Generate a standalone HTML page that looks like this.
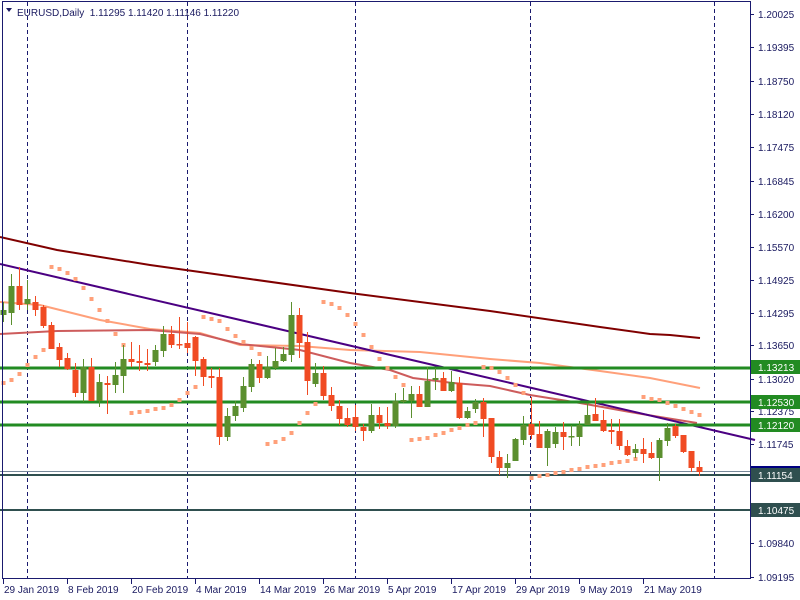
<!DOCTYPE html>
<html><head><meta charset="utf-8"><style>
html,body{margin:0;padding:0;background:#fff}
svg{display:block}
text{font-family:"Liberation Sans","DejaVu Sans",sans-serif;font-size:10px;fill:#1a1a60}
</style></head><body>
<svg width="800" height="600" viewBox="0 0 800 600" xmlns="http://www.w3.org/2000/svg">
<rect width="800" height="600" fill="#fff"/>
<!-- separators -->
<g stroke="#1a1a6e" stroke-dasharray="4,3" stroke-width="1">
<line x1="27.5" y1="2" x2="27.5" y2="578"/><line x1="187.5" y1="2" x2="187.5" y2="578"/><line x1="355.5" y1="2" x2="355.5" y2="578"/><line x1="530.5" y1="2" x2="530.5" y2="578"/><line x1="714.5" y1="2" x2="714.5" y2="578"/>
</g>
<!-- MAs -->
<polyline fill="none" stroke="#800000" stroke-width="2" points="0,237 57,250 150,265 250,279 350,293 490,311 600,327 650,334 670,335 700,338"/>
<polyline fill="none" stroke="#ffa07a" stroke-width="2" points="0,302 40,305 60,310 100,320 150,329 200,333 240,345 300,346 350,350 420,352 490,359 540,363 600,371 650,378 700,388"/>
<polyline fill="none" stroke="#cd5c5c" stroke-width="2" points="0,334 57,331 150,330 200,334 240,344 300,350 350,363 390,370 413,378 453,383 490,386 530,395 580,403 630,412 660,417 697,423"/>
<line x1="0" y1="264" x2="755" y2="440" stroke="#4b0082" stroke-width="2"/>
<!-- levels -->
<g stroke="#228b22" stroke-width="3"><line x1="0" y1="368" x2="750" y2="368"/><line x1="0" y1="402" x2="750" y2="402"/><line x1="0" y1="425" x2="750" y2="425"/></g>
<line x1="0" y1="471.5" x2="750" y2="471.5" stroke="#778899" stroke-width="1"/>
<g stroke="#2f4f4f" stroke-width="2"><line x1="0" y1="475" x2="750" y2="475"/><line x1="0" y1="510" x2="750" y2="510"/></g>
<!-- SAR -->
<g fill="#ffa07a" id="sar"></g>
<!-- candles -->
<g id="c"></g>
<!-- frame -->
<g stroke="#1a1a6e" stroke-width="1" fill="none">
<line x1="2.5" y1="1" x2="2.5" y2="578"/><line x1="2" y1="578.5" x2="750" y2="578.5"/><line x1="750.5" y1="1" x2="750.5" y2="579"/><line x1="2" y1="1.5" x2="750" y2="1.5"/>
</g>
<g id="ax"></g>
<!-- labels -->
<rect x="751" y="466" width="49" height="5" fill="#000080"/>
<rect x="751" y="360" width="49" height="14" fill="#228b22"/>
<rect x="751" y="395" width="49" height="14" fill="#228b22"/>
<rect x="751" y="418" width="49" height="14" fill="#228b22"/>
<rect x="751" y="468" width="49" height="14" fill="#2f4f4f"/>
<rect x="751" y="503" width="49" height="14" fill="#2f4f4f"/>
<g style="fill:#fff"><text x="758" y="371" style="fill:#fff">1.13213</text><text x="758" y="406" style="fill:#fff">1.12530</text><text x="758" y="429" style="fill:#fff">1.12120</text><text x="758" y="479" style="fill:#fff">1.11154</text><text x="758" y="514" style="fill:#fff">1.10475</text></g>
<path d="M6,8 L12,8 L9,12 Z" fill="#1a1a60"/>
<text x="17" y="16">EURUSD,Daily&#160; 1.11295 1.11420 1.11146 1.11220</text>
</svg>
<script>
var NS="http://www.w3.org/2000/svg";
function el(p,t,a){var e=document.createElementNS(NS,t);for(var k in a)e.setAttribute(k,a[k]);p.appendChild(e);return e;}
var d="3 310 315 302 322 G|11 286 313 274 325 G|19 286 305 267 310 R|27 299 304 280 310 G|35 302 310 296 316 R|43 307 326 305 328 R|51 325 349 322 349 R|59 347 360 343 367 R|67 358 369 353 370 R|75 370 393 363 397 R|83 367 393 359 402 G|91 367 401 358 401 R|99 382 401 374 407 G|107 383 385 376 414 R|115 375 385 362 393 G|123 359 376 345 393 G|131 359 362 342 367 R|139 361 363 345 371 R|147 363 365 349 371 R|155 350 362 345 366 G|163 334 351 326 357 G|171 334 345 326 348 R|179 344 345 317 349 R|187 343 348 322 353 R|195 337 361 336 376 R|203 359 377 357 386 R|211 376 378 368 388 R|219 377 437 368 445 R|227 416 437 408 441 G|235 406 416 401 421 G|243 386 408 377 412 G|251 364 387 359 392 G|259 364 378 360 383 R|267 367 378 356 379 G|275 361 368 348 370 G|283 354 361 347 362 G|291 315 355 302 362 G|299 315 343 308 358 R|307 342 381 332 395 R|315 373 384 363 387 G|323 373 396 366 400 R|331 395 406 387 411 R|339 406 419 400 425 R|347 418 425 408 427 R|355 417 427 405 431 R|363 427 431 424 441 R|371 415 431 404 433 G|379 415 423 407 429 R|387 423 426 407 429 R|395 401 426 393 428 G|403 400 402 388 403 G|411 394 401 386 418 G|419 394 407 386 407 R|427 381 407 367 407 G|435 378 380 368 390 G|443 378 391 372 391 R|451 382 391 371 392 G|459 383 418 377 419 R|467 411 418 407 419 G|475 402 409 399 413 G|483 402 419 398 437 R|491 418 457 418 463 R|499 457 468 451 475 R|507 463 468 454 478 G|515 439 461 438 461 G|523 425 440 416 445 G|531 424 435 397 439 R|539 434 448 421 448 R|547 431 448 429 466 G|555 432 444 427 448 G|563 432 437 422 450 R|571 436 437 425 446 G|579 425 437 421 446 G|587 415 425 403 425 G|595 414 421 398 421 R|603 420 431 410 432 R|611 430 432 419 444 R|619 431 446 419 450 R|627 446 455 440 456 R|635 449 453 444 458 G|643 449 454 438 463 R|651 453 458 442 459 R|659 440 458 438 481 G|667 428 441 423 446 G|675 426 436 424 438 R|683 435 452 435 453 R|691 451 468 451 472 R|699 467 472 461 476 R";
var g=document.getElementById("c");
d.split("|").forEach(function(s){var a=s.split(" "),x=+a[0],t=+a[1],b=+a[2],h=+a[3],l=+a[4],c=a[5]=="G"?"#5b8f2f":"#f04b23";
el(g,"rect",{x:x,y:h,width:1,height:l-h,fill:c});el(g,"rect",{x:x-2.5,y:t,width:6,height:Math.max(b-t,1.5),fill:c});});
var sp="3,383 11,380 19,374 27,365 35,357 43,350 51,267 59,269 67,273 75,279 83,288 91,299 99,310 107,321 115,334 123,345 131,413 139,412 147,411 155,409 163,408 171,405 179,400 187,393 195,387 203,317 211,319 219,321 227,329 235,336 243,342 251,348 259,354 267,444 275,442 283,439 291,433 299,423 307,413 315,404 323,302 331,304 339,308 347,315 355,324 363,335 371,347 379,359 387,368 395,377 403,385 411,440 419,439 427,438 435,435 443,433 451,430 459,428 467,425 475,423 483,367 491,368 499,372 507,378 515,385 523,393 531,478 539,476 547,475 555,473 563,472 571,470 579,469 587,467 595,466 603,465 611,463 619,462 627,461 635,459 643,397 651,399 659,400 667,403 675,406 683,409 691,412 699,415";
var sg=document.getElementById("sar");
sp.split(" ").forEach(function(p){var q=p.split(",");el(sg,"rect",{x:+q[0]-1.5,y:+q[1]-2,width:4,height:4});});
var ax=document.getElementById("ax");
[["1.20025",14],["1.19395",47],["1.18750",81],["1.18120",114],["1.17475",147],["1.16845",181],["1.16200",214],["1.15570",247],["1.14925",280],["1.14295",313],["1.13650",345],["1.13020",379],["1.12375",411],["1.11745",444],["1.09840",543],["1.09195",577]].forEach(function(v){
el(ax,"line",{x1:750,x2:754,y1:v[1]+.5,y2:v[1]+.5,stroke:"#1a1a6e"});var t=el(ax,"text",{x:758,y:v[1]+4});t.textContent=v[0];});
[["29 Jan 2019",3],["8 Feb 2019",67],["20 Feb 2019",131],["4 Mar 2019",195],["14 Mar 2019",259],["26 Mar 2019",323],["5 Apr 2019",387],["17 Apr 2019",451],["29 Apr 2019",515],["9 May 2019",579],["21 May 2019",643]].forEach(function(v){
el(ax,"line",{x1:v[1]+.5,x2:v[1]+.5,y1:579,y2:584,stroke:"#1a1a6e"});var t=el(ax,"text",{x:v[1]+1,y:593});t.textContent=v[0];});
</script>
</body></html>
